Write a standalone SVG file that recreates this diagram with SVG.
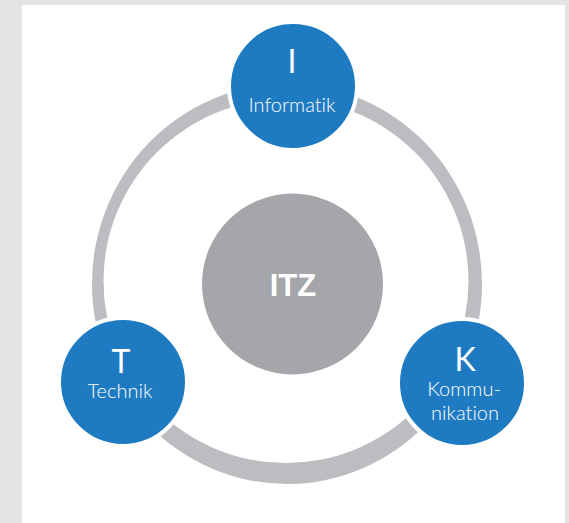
<svg xmlns="http://www.w3.org/2000/svg" width="569" height="523" viewBox="0 0 569 523">
  <style>
    .node { fill: #1f7bc1; stroke: #ffffff; stroke-width: 4; }
    .big { font-family: Lato, "Open Sans", "Liberation Sans", sans-serif; font-weight: 400; fill: #ffffff; font-size: 32px; text-anchor: middle; }
    .lbl { font-family: Lato, "Open Sans", "Liberation Sans", sans-serif; font-weight: 300; fill: #ffffff; font-size: 20px; text-anchor: middle; font-variant-ligatures: none; }
    .hub { font-family: "Liberation Sans", Arial, sans-serif; font-weight: bold; fill: #ffffff; font-size: 31px; text-anchor: middle; }
  </style>
  <rect x="0" y="0" width="569" height="523" fill="#e3e4e6"/>
  <rect x="22" y="5" width="543" height="518" fill="#ffffff"/>
  <g id="connectors">
    <path fill="#bcbdc0" fill-rule="evenodd" d="M 92 284 A 195 200 0 1 0 482 284 A 195 200 0 1 0 92 284 Z M 103.5 281 A 182.5 182 0 1 0 468.5 281 A 182.5 182 0 1 0 103.5 281 Z"/>
  </g>
  <g id="itz">
    <circle cx="292.5" cy="284" r="90.5" fill="#a4a6a9"/>
    <text class="hub" x="293" y="296">ITZ</text>
  </g>
  <g id="informatik">
    <circle class="node" cx="293" cy="86" r="64"/>
    <text class="big" x="292" y="73">I</text>
    <text class="lbl" x="292" y="112">Informatik</text>
  </g>
  <g id="technik">
    <circle class="node" cx="123" cy="382" r="64"/>
    <text class="big" x="121" y="373">T</text>
    <text class="lbl" x="120" y="398">Technik</text>
  </g>
  <g id="kommunikation">
    <circle class="node" cx="462" cy="383" r="64"/>
    <text class="big" x="465" y="371">K</text>
    <text class="lbl" x="464" y="396">Kommu-</text>
    <text class="lbl" x="465" y="420">nikation</text>
  </g>
</svg>
